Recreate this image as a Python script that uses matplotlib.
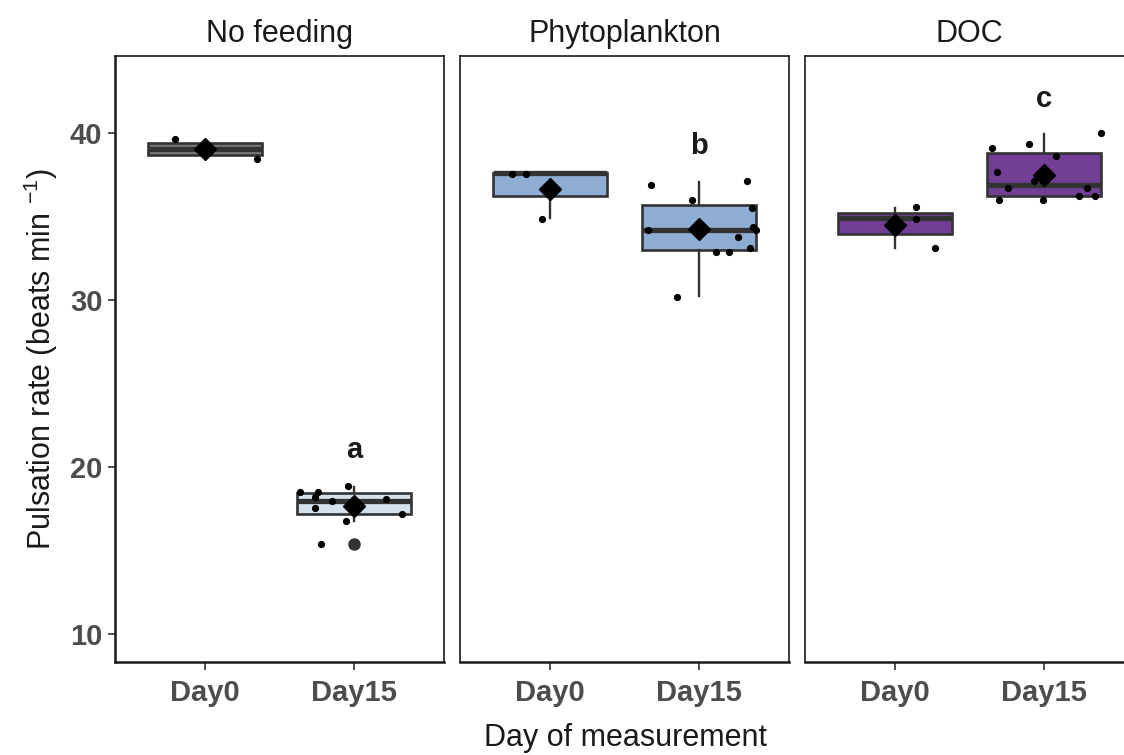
import matplotlib
matplotlib.use('Agg')
import matplotlib.pyplot as plt

plt.rcParams['font.family'] = ['Liberation Sans', 'DejaVu Sans']
plt.rcParams['mathtext.fontset'] = 'custom'
plt.rcParams['mathtext.rm'] = 'Liberation Sans'
plt.rcParams['mathtext.it'] = 'Liberation Sans:italic'

# Treatments (facets) and measurement days
treatments = ['No feeding', 'Phytoplankton', 'DOC']
days = ['Day0', 'Day15']
box_fill = [['#7a7a7a', '#d3e2ef'], ['#8dadd3', '#8dadd3'], ['#723e96', '#723e96']]

# Box statistics per treatment/day: q1, median, q3, whisker low, whisker high
q1 = [[38.68, 17.17], [36.19, 33.01], [33.95, 36.19]]
median = [[39.04, 17.97], [37.60, 34.21], [34.88, 36.87]]
q3 = [[39.42, 18.42], [37.62, 35.65], [35.23, 38.78]]
whis_lo = [[38.68, 16.78], [34.89, 30.24], [33.10, 36.19]]
whis_hi = [[39.42, 18.82], [37.62, 37.08], [35.53, 39.94]]
outliers = [[[], [15.39]], [[], []], [[], []]]
means = [[39.04, 17.66], [36.65, 34.27], [34.51, 37.47]]

# Individual measurements (jittered offsets from the category centre)
pts_y = [
    [[39.64, 38.43],
     [18.52, 18.52, 18.18, 17.96, 18.86, 17.53, 18.08, 17.17, 16.77, 15.39]],
    [[37.55, 37.55, 34.87],
     [36.87, 35.97, 37.10, 35.53, 34.19, 34.39, 34.19, 33.75, 32.86, 32.86, 33.10, 30.20]],
    [[35.55, 34.87, 33.10],
     [39.10, 39.32, 39.98, 38.64, 37.65, 37.11, 36.67, 36.67, 35.99, 35.99, 36.21, 36.21]],
]
pts_dx = [
    [[-0.20, 0.35],
     [-0.36, -0.245, -0.26, -0.15, -0.04, -0.26, 0.21, 0.32, -0.055, -0.22]],
    [[-0.25, -0.16, -0.05],
     [-0.325, -0.05, 0.32, 0.35, -0.34, 0.36, 0.38, 0.26, 0.11, 0.20, 0.34, -0.15]],
    [[0.14, 0.14, 0.27],
     [-0.35, -0.10, 0.38, 0.08, -0.315, -0.07, -0.24, 0.285, -0.30, -0.01, 0.23, 0.34]],
]

# Significance letters on Day15
letters = ['a', 'b', 'c']
letter_y = [21.0, 39.2, 42.0]

W, H = 1124, 755
fig = plt.figure(figsize=(W / 100, H / 100), dpi=100)
lefts = [115, 460, 805]
pw = 329
bottom, top = 662, 56
line_col = '#333333'

axes = []
for k, tr in enumerate(treatments):
    ax = fig.add_axes([lefts[k] / W, 1 - bottom / H, pw / W, (bottom - top) / H])
    axes.append(ax)
    stats = []
    for d in range(2):
        stats.append(dict(q1=q1[k][d], med=median[k][d], q3=q3[k][d],
                          whislo=whis_lo[k][d], whishi=whis_hi[k][d],
                          fliers=outliers[k][d]))
    bp = ax.bxp(stats, positions=[1, 2], widths=0.76, patch_artist=True,
                showcaps=False, showfliers=True,
                boxprops=dict(edgecolor=line_col, linewidth=1.9),
                medianprops=dict(color=line_col, linewidth=3.8, solid_capstyle='butt'),
                whiskerprops=dict(color=line_col, linewidth=1.7),
                flierprops=dict(marker='o', markerfacecolor=line_col,
                                markeredgecolor=line_col, markersize=8))
    for d, patch in enumerate(bp['boxes']):
        patch.set_facecolor(box_fill[k][d])
        patch.set_zorder(2)
    for d in range(2):
        xs = [d + 1 + dx for dx in pts_dx[k][d]]
        ax.plot(xs, pts_y[k][d], 'o', color='black', markersize=4.2, zorder=4)
        ax.plot([d + 1], [means[k][d]], 'D', color='black', markersize=11.5, zorder=5)
    ax.text(2, letter_y[k], letters[k], ha='center', va='center',
            fontsize=21, fontweight='bold', color='#1a1a1a')

    ax.set_xlim(0.4, 2.6)
    ax.set_ylim(8.32, 44.6)
    ax.set_xticks([1, 2])
    ax.set_xticklabels(days, fontsize=21, fontweight='bold', color='#4d4d4d')
    ax.tick_params(axis='x', length=6, width=1.2, color=line_col, pad=6)
    for s in ax.spines.values():
        s.set_linewidth(1.2)
        s.set_color('#1a1a1a')
    ax.spines['bottom'].set_linewidth(1.8)
    if k == 0:
        ax.set_yticks([10, 20, 30, 40])
        ax.set_yticklabels(['10', '20', '30', '40'], fontsize=21,
                           fontweight='bold', color='#4d4d4d')
        ax.tick_params(axis='y', length=5, width=1.2, color=line_col, pad=4)
        ax.spines['left'].set_linewidth(1.8)
        ax.set_ylabel('Pulsation rate (beats min $^{-1}$)', fontsize=22,
                      color='#1a1a1a', labelpad=7)
    else:
        ax.set_yticks([])
    ax.text(0.5, 1.012, tr, transform=ax.transAxes, ha='center', va='bottom',
            fontsize=22, color='#1a1a1a')

fig.text(625 / W, 1 - 738 / H, 'Day of measurement', ha='center', va='center',
         fontsize=22, color='#1a1a1a')

fig.savefig('out.png', dpi=100)
